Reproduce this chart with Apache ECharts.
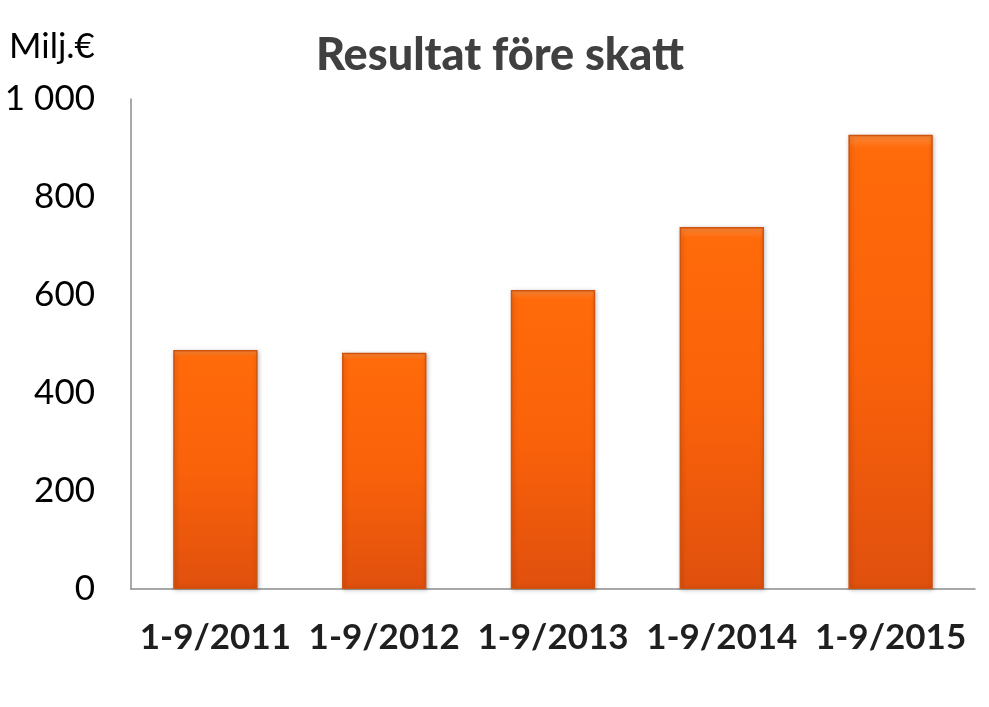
<!DOCTYPE html>
<html><head><meta charset="utf-8">
<script src="https://cdn.jsdelivr.net/npm/echarts@6/dist/echarts.min.js"></script>
<style>html,body{margin:0;padding:0;background:#fff}#c{width:989px;height:707px}</style>
</head><body><div id="c"></div>
<script>
var categories = ['1-9/2011','1-9/2012','1-9/2013','1-9/2014','1-9/2015'];
var values = [488, 482, 610, 739, 927];
var yTicks = [0, 200, 400, 600, 800, 1000];

var chart = echarts.init(document.getElementById('c'));
chart.setOption({
  animation: false,
  backgroundColor: '#fff',
  title: {
    text: 'Resultat före skatt', left: 495, top: 28, textAlign: 'center',
    textStyle: { fontFamily: 'Lato', fontWeight: 900, fontSize: 45, color: '#404040' }
  },
  graphic: [{
    type: 'text', left: 9, top: 29,
    style: { text: 'Milj.€', fontFamily: 'Lato', fontSize: 35, fill: '#000' }
  }],
  grid: { left: 131, right: 14, top: 99, bottom: 118, containLabel: false },
  xAxis: {
    type: 'category', data: categories,
    axisLine: { lineStyle: { color: '#8c8c8c', width: 1.5 } },
    axisTick: { show: false },
    axisLabel: { interval: 0, margin: 31, fontFamily: 'Lato', fontWeight: 'bold', fontSize: 35, color: '#1f1f1f' }
  },
  yAxis: {
    type: 'value', min: 0, max: 1000, interval: 200,
    axisLine: { show: true, lineStyle: { color: '#8c8c8c', width: 1.5 } },
    axisTick: { show: false },
    splitLine: { show: false },
    axisLabel: {
      margin: 36, fontFamily: 'Lato', fontSize: 35, color: '#000',
      formatter: function (v) { return yTicks.indexOf(v) >= 0 ? (v === 1000 ? '1 000' : String(v)) : ''; }
    }
  },
  series: [{
    type: 'bar', data: values, barWidth: '50%',
    itemStyle: {
      color: new echarts.graphic.LinearGradient(0, 0, 0, 1, [
        { offset: 0, color: '#FF8A3A' },
        { offset: 0.03, color: '#FF6A0A' },
        { offset: 0.5, color: '#FA620A' },
        { offset: 1, color: '#E0500E' }
      ]),
      borderColor: '#D0520F', borderWidth: 1.5,
      shadowColor: 'rgba(0,0,0,0.25)', shadowBlur: 4, shadowOffsetX: 1, shadowOffsetY: 1
    }
  }]
});
</script></body></html>
